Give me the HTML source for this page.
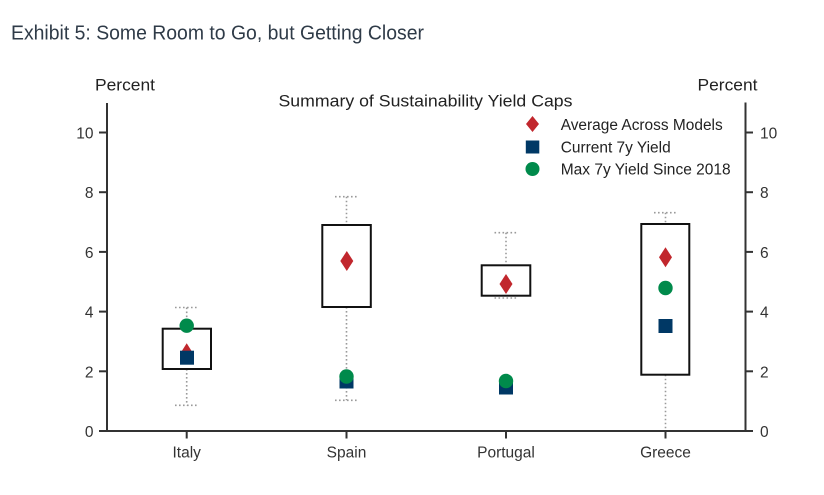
<!DOCTYPE html>
<html><head><meta charset="utf-8"><style>
html,body{margin:0;padding:0;background:#fff;}
svg{display:block;font-family:"Liberation Sans",Arial,sans-serif;}
</style></head><body>
<svg width="824" height="495" viewBox="0 0 824 495" xmlns="http://www.w3.org/2000/svg">
<rect width="824" height="495" fill="#fff"/>
<text x="11" y="39.5" font-size="20" fill="#2f3b48" textLength="413" lengthAdjust="spacingAndGlyphs">Exhibit 5: Some Room to Go, but Getting Closer</text>

<text x="95" y="90.5" font-size="17" fill="#222" textLength="60" lengthAdjust="spacingAndGlyphs">Percent</text>
<text x="697.5" y="90.5" font-size="17" fill="#222" textLength="60" lengthAdjust="spacingAndGlyphs">Percent</text>
<text x="278.5" y="106.5" font-size="17" fill="#222" textLength="294" lengthAdjust="spacingAndGlyphs">Summary of Sustainability Yield Caps</text>

<!-- axes -->
<g stroke="#333" stroke-width="2" fill="none">
<line x1="107" y1="103" x2="107" y2="432"/>
<line x1="745.5" y1="102.5" x2="745.5" y2="432"/>
<line x1="106" y1="431" x2="746.5" y2="431"/>
<!-- left ticks -->
<line x1="99" y1="431" x2="107" y2="431"/>
<line x1="99" y1="371.3" x2="107" y2="371.3"/>
<line x1="99" y1="311.6" x2="107" y2="311.6"/>
<line x1="99" y1="251.9" x2="107" y2="251.9"/>
<line x1="99" y1="192.2" x2="107" y2="192.2"/>
<line x1="99" y1="132.5" x2="107" y2="132.5"/>
<!-- right ticks -->
<line x1="745.5" y1="431" x2="753" y2="431"/>
<line x1="745.5" y1="371.3" x2="753" y2="371.3"/>
<line x1="745.5" y1="311.6" x2="753" y2="311.6"/>
<line x1="745.5" y1="251.9" x2="753" y2="251.9"/>
<line x1="745.5" y1="192.2" x2="753" y2="192.2"/>
<line x1="745.5" y1="132.5" x2="753" y2="132.5"/>
<!-- bottom ticks -->
<line x1="186.7" y1="431" x2="186.7" y2="438.5"/>
<line x1="346.5" y1="431" x2="346.5" y2="438.5"/>
<line x1="506" y1="431" x2="506" y2="438.5"/>
<line x1="665.5" y1="431" x2="665.5" y2="438.5"/>
</g>

<g font-size="15.5" fill="#333" text-anchor="end">
<text x="93.5" y="437">0</text>
<text x="93.5" y="377.3">2</text>
<text x="93.5" y="317.6">4</text>
<text x="93.5" y="257.9">6</text>
<text x="93.5" y="198.2">8</text>
<text x="93.5" y="138.5">10</text>
</g>
<g font-size="15.5" fill="#333">
<text x="760" y="437">0</text>
<text x="760" y="377.3">2</text>
<text x="760" y="317.6">4</text>
<text x="760" y="257.9">6</text>
<text x="760" y="198.2">8</text>
<text x="760" y="138.5">10</text>
</g>
<g font-size="15.5" fill="#333" text-anchor="middle">
<text x="186.7" y="457.5">Italy</text>
<text x="346.5" y="457.5">Spain</text>
<text x="506" y="457.5">Portugal</text>
<text x="665.5" y="457.5">Greece</text>
</g>

<!-- whiskers -->
<g stroke="#9a9a9a" stroke-width="1.6" stroke-dasharray="1.6 2.4" fill="none">
<line x1="175" y1="307.5" x2="198" y2="307.5"/>
<line x1="186.7" y1="307.5" x2="186.7" y2="328.7"/>
<line x1="186.7" y1="369" x2="186.7" y2="405.3"/>
<line x1="175" y1="405.3" x2="198" y2="405.3"/>

<line x1="335" y1="196.7" x2="358" y2="196.7"/>
<line x1="346.5" y1="196.7" x2="346.5" y2="225"/>
<line x1="346.5" y1="307" x2="346.5" y2="400.3"/>
<line x1="335" y1="400.3" x2="358" y2="400.3"/>

<line x1="494.5" y1="232.7" x2="517.5" y2="232.7"/>
<line x1="506" y1="232.7" x2="506" y2="265.3"/>
<line x1="494.5" y1="298" x2="517.5" y2="298"/>

<line x1="654" y1="212.7" x2="677" y2="212.7"/>
<line x1="665.5" y1="212.7" x2="665.5" y2="224"/>
<line x1="665.5" y1="374.7" x2="665.5" y2="430"/>
</g>

<!-- boxes -->
<g stroke="#111" stroke-width="2" fill="none">
<rect x="162.7" y="328.7" width="48.3" height="40.3"/>
<rect x="322.3" y="225" width="48.5" height="82"/>
<rect x="481.7" y="265.3" width="48.6" height="30.4"/>
<rect x="641.3" y="224" width="48" height="150.7"/>
</g>

<!-- markers -->
<g>
<!-- Italy -->
<polygon points="186.7,343.3 193,353.3 186.7,363.3 180.4,353.3" fill="#c1272d"/>
<rect x="180" y="350.7" width="14" height="14" fill="#003865"/>
<circle cx="186.7" cy="325.7" r="7.2" fill="#008a4b"/>
<!-- Spain -->
<polygon points="346.8,251 353.3,261 346.8,271 340.3,261" fill="#c1272d"/>
<rect x="339.5" y="374.5" width="14" height="14" fill="#003865"/>
<circle cx="346.5" cy="376.5" r="7.2" fill="#008a4b"/>
<!-- Portugal -->
<polygon points="506,274 512.5,284 506,294 499.5,284" fill="#c1272d"/>
<rect x="499" y="380.5" width="14" height="14" fill="#003865"/>
<circle cx="506" cy="381" r="7.2" fill="#008a4b"/>
<!-- Greece -->
<polygon points="665.5,247.3 672,257.3 665.5,267.3 659,257.3" fill="#c1272d"/>
<circle cx="665.5" cy="288" r="7.2" fill="#008a4b"/>
<rect x="658.5" y="319" width="14" height="14" fill="#003865"/>
</g>

<!-- legend -->
<polygon points="532.5,116 539,124 532.5,132 526,124" fill="#c1272d"/>
<rect x="525.8" y="140.5" width="13.5" height="13" fill="#003865"/>
<circle cx="532.5" cy="169" r="7" fill="#008a4b"/>
<g font-size="15.5" fill="#222">
<text x="560.7" y="130" textLength="162" lengthAdjust="spacingAndGlyphs">Average Across Models</text>
<text x="560.7" y="152.3" textLength="110" lengthAdjust="spacingAndGlyphs">Current 7y Yield</text>
<text x="560.7" y="174.3" textLength="170" lengthAdjust="spacingAndGlyphs">Max 7y Yield Since 2018</text>
</g>
</svg>
</body></html>
